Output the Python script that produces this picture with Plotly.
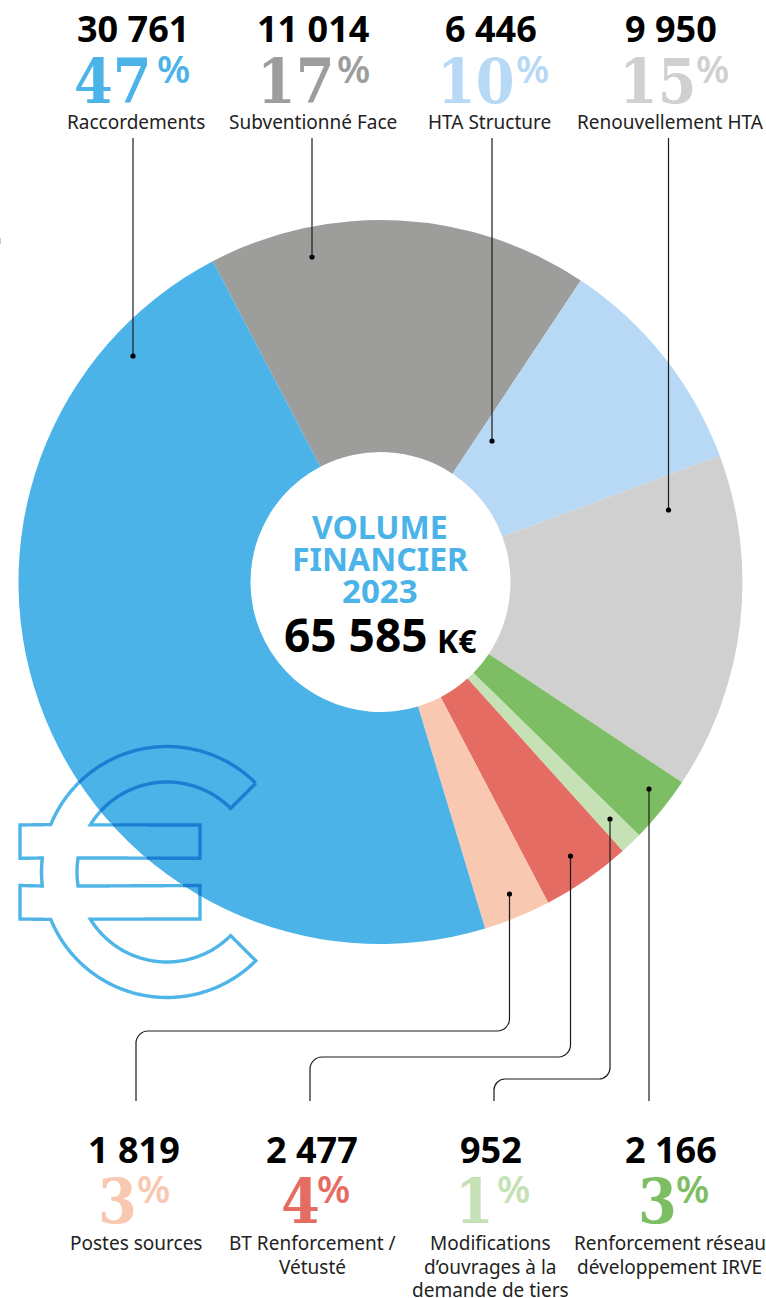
import math
import plotly.graph_objects as go

W, H = 766, 1298

# ---- data ----
categories = ["Subventionné Face", "HTA Structure", "Renouvellement HTA",
              "Renforcement réseau développement IRVE",
              "Modifications d’ouvrages à la demande de tiers",
              "BT Renforcement / Vétusté", "Postes sources", "Raccordements"]
values = [11014, 6446, 9950, 2166, 952, 2477, 1819, 30761]
# the reference draws its slices from the rounded percentages
percents = [17, 10, 15, 3, 1, 4, 3, 47]
slice_colors = ["#9D9D9C", "#B7D9F5", "#D0D0D0", "#7DBE65",
                "#C5E1B5", "#E46C62", "#F8C8B1", "#4BB3E8"]
total_label = "65 585"

# ---- layout helpers ----
CX, CY, R, HOLE = 380.5, 582, 362, 130
px = lambda x: x / W
py = lambda y: 1 - y / H
fmt = lambda v: f"{v:,}".replace(",", " ")

annotations = []
def text(x, y, s, size, color="#000000", family="Noto Sans", bold=False, anchor="center", weight=None):
    f = dict(size=size, color=color, family=family)
    if weight:
        f["weight"] = weight
    annotations.append(dict(
        x=px(x), y=py(y), xref="paper", yref="paper", text=f"<b>{s}</b>" if bold else s,
        showarrow=False, xanchor=anchor, yanchor="middle", font=f, borderpad=0, borderwidth=0))

SERIF = "DejaVu Serif Condensed, DejaVu Serif, serif"
LABEL = "#222222"

# index in values, number centre, label centre, digits right edge, % left edge, top y, label y, label lines
blocks = [
    (7, 133, 136, 152, 157, 30, 122, ["Raccordements"]),
    (0, 312.5, 312.5, 335, 337, 30, 122, ["Subventionné Face"]),
    (1, 491.5, 489.5, 515, 516, 30, 122, ["HTA Structure"]),
    (2, 671, 670, 697, 696, 30, 122, ["Renouvellement HTA"]),
    (6, 133.5, 135.5, 137, 137, 1150, 1243, ["Postes sources"]),
    (5, 312, 312.5, 320, 317, 1150, 1243, ["BT Renforcement /", "Vétusté"]),
    (4, 491.5, 490, 494, 497, 1150, 1243, ["Modifications", "d’ouvrages à la", "demande de tiers"]),
    (3, 671, 669.5, 677, 676, 1150, 1243, ["Renforcement réseau", "développement IRVE"]),
]
for idx, ncx, cx, dig_r, pct_l, y0, yl, lines in blocks:
    col = slice_colors[idx]
    text(ncx, y0 - 1, fmt(values[idx]), 36, bold=True)
    text(dig_r, y0 + 51, str(percents[idx]), 62, color=col, family=SERIF, bold=True, anchor="right")
    text(pct_l, y0 + 38, "%", 38, color=col, family="Noto Sans", anchor="left", weight=600)
    for i, line in enumerate(lines):
        text(cx, yl + i * 23.5, line, 19, color=LABEL)

BLUE = "#4BB3E8"
text(380, 526.5, "VOLUME", 32, color=BLUE, bold=True)
text(380, 558.5, "FINANCIER", 32, color=BLUE, bold=True)
text(380, 590.5, "2023", 33, color=BLUE, bold=True)
text(428, 634, total_label, 46, bold=True, anchor="right")
text(437, 640, "K€", 32, bold=True, anchor="left")

# ---- leader lines ----
shapes = []
LINE = "#1c1c1c"
def spath(pts):
    return "M" + " L".join(f"{px(x):.5f},{py(y):.5f}" for x, y in pts)
def leader_path(x0, y0, yh, x1, y1, r=12):
    k = r * 0.45
    return (f"M{px(x0):.5f},{py(y0):.5f} L{px(x0):.5f},{py(yh-r):.5f} "
            f"C{px(x0):.5f},{py(yh-r+k*1.2):.5f} {px(x0-r+k*1.2):.5f},{py(yh):.5f} {px(x0-r):.5f},{py(yh):.5f} "
            f"L{px(x1+r):.5f},{py(yh):.5f} "
            f"C{px(x1+r-k*1.2):.5f},{py(yh):.5f} {px(x1):.5f},{py(yh+r-k*1.2):.5f} {px(x1):.5f},{py(yh+r):.5f} "
            f"L{px(x1):.5f},{py(y1):.5f}")
def add_line(path):
    shapes.append(dict(type="path", xref="paper", yref="paper", path=path,
                       line=dict(color=LINE, width=1.2), layer="above"))
def add_dot(x, y, r=2.6):
    shapes.append(dict(type="circle", xref="paper", yref="paper", x0=px(x-r), x1=px(x+r),
                       y0=py(y+r), y1=py(y-r), fillcolor="#000000",
                       line=dict(width=0), layer="above"))

for x, y in [(133, 356), (312, 257), (492, 441), (668.5, 510)]:
    add_line(spath([(x, 138), (x, y)]))
    add_dot(x, y)
add_line(leader_path(509.5, 894, 1031, 136, 1101)); add_dot(509.5, 894)
add_line(leader_path(570.5, 856, 1057, 310, 1101)); add_dot(570.5, 856)
add_line(leader_path(610, 819, 1079, 494, 1101, r=11)); add_dot(610, 819)
add_line(spath([(649, 789), (649, 1101)])); add_dot(649, 789)

# ---- euro outline (decoration), recoloured where it crosses the pie ----
EX, EY, RO, RI = 167, 872, 125.5, 90
def arc(r, a0, a1):
    n = max(2, int(abs(a1 - a0) * r * math.pi / 180))
    return [(EX + r * math.cos(math.radians(a0 + (a1 - a0) * i / n)),
             EY + r * math.sin(math.radians(a0 + (a1 - a0) * i / n))) for i in range(n + 1)]
outline = (arc(RO, -45, -157.8) + [(20, 825), (20, 858.3)] + arc(RO, -173.6, -186.4)
           + [(20, 885.5), (20, 919)] + arc(RO, 157.8, 45)
           + arc(RI, 45, 148.4) + [(200, 919), (200, 885.5)] + arc(RI, 171, 189)
           + [(200, 858.3), (200, 825)] + arc(RI, -148.4, -45))
outline.append(outline[0])
dense = []
for (a, b) in zip(outline, outline[1:]):
    d = math.hypot(b[0]-a[0], b[1]-a[1])
    n = max(1, int(d))
    for i in range(n):
        dense.append((a[0] + (b[0]-a[0])*i/n, a[1] + (b[1]-a[1])*i/n))
dense.append(outline[-1])
seg_in, seg_out = [], []
for a, b in zip(dense, dense[1:]):
    m = ((a[0]+b[0])/2, (a[1]+b[1])/2)
    (seg_in if math.hypot(m[0]-CX, m[1]-CY) <= R else seg_out).append((a, b))
def seg_path(segs):
    out, last = [], None
    for a, b in segs:
        if last != a:
            out.append(f"M{px(a[0]):.5f},{py(a[1]):.5f}")
        out.append(f"L{px(b[0]):.5f},{py(b[1]):.5f}")
        last = b
    return " ".join(out)
for segs, col in [(seg_out, "#4FB5E9"), (seg_in, "#1C7ED3")]:
    shapes.append(dict(type="path", xref="paper", yref="paper", path=seg_path(segs),
                       line=dict(color=col, width=3.4), layer="above"))

# tiny sliver at left edge
shapes.append(dict(type="line", xref="paper", yref="paper", x0=px(0.5), x1=px(0.5),
                   y0=py(244), y1=py(238), line=dict(color="#cccccc", width=1), layer="above"))

fig = go.Figure(go.Pie(
    labels=categories, values=percents, sort=False, direction="clockwise", rotation=-27.6,
    hole=HOLE / R, textinfo="none", hoverinfo="skip", showlegend=False,
    marker=dict(colors=slice_colors, line=dict(width=0)),
    domain=dict(x=[px(CX - R), px(CX + R)], y=[py(CY + R), py(CY - R)]),
))
fig.update_layout(width=W, height=H, margin=dict(l=0, r=0, t=0, b=0), autosize=False,
                  paper_bgcolor="white", plot_bgcolor="white", showlegend=False,
                  annotations=annotations, shapes=shapes)
fig.write_html("out.html", config={"displayModeBar": False},
               post_script="document.body.style.margin='0';")
